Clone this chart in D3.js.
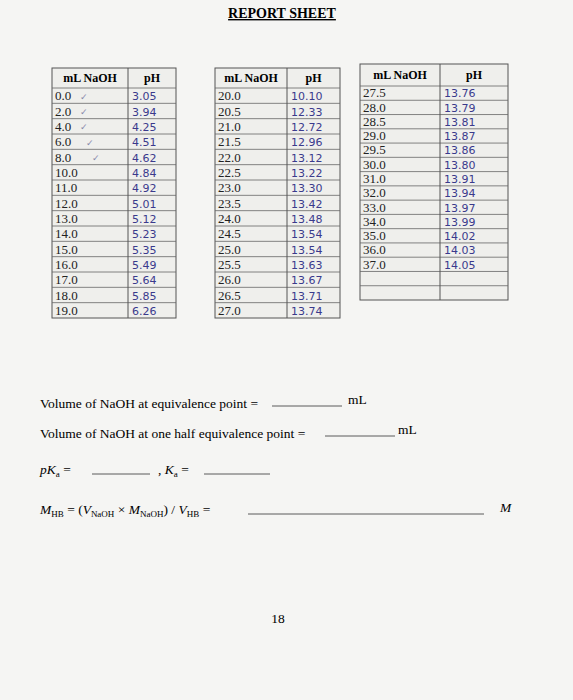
<!DOCTYPE html>
<html><head><meta charset="utf-8">
<script src="https://cdn.jsdelivr.net/npm/d3@7"></script>
<style>body{margin:0;background:#f4f4f2}</style>
</head><body>
<svg id="sheet" width="573" height="700"></svg>
<script>
var vol1 = ["0.0","2.0","4.0","6.0","8.0","10.0","11.0","12.0","13.0","14.0","15.0","16.0","17.0","18.0","19.0"]
var ph1 = ["3.05","3.94","4.25","4.51","4.62","4.84","4.92","5.01","5.12","5.23","5.35","5.49","5.64","5.85","6.26"]
var vol2 = ["20.0","20.5","21.0","21.5","22.0","22.5","23.0","23.5","24.0","24.5","25.0","25.5","26.0","26.5","27.0"]
var ph2 = ["10.10","12.33","12.72","12.96","13.12","13.22","13.30","13.42","13.48","13.54","13.54","13.63","13.67","13.71","13.74"]
var vol3 = ["27.5","28.0","28.5","29.0","29.5","30.0","31.0","32.0","33.0","34.0","35.0","36.0","37.0","",""]
var ph3 = ["13.76","13.79","13.81","13.87","13.86","13.80","13.91","13.94","13.97","13.99","14.02","14.03","14.05","",""]
var checks = [0,1,2,3,4]

var svg = d3.select("#sheet")
svg.append("rect").attr("width",573).attr("height",700).attr("fill","#f5f5f3")
svg.append("text").attr("x",282).attr("y",18).attr("text-anchor","middle")
  .attr("font-family","Liberation Serif").attr("font-weight","bold").attr("font-size",14)
  .attr("text-decoration","underline").text("REPORT SHEET")

function drawTable(x0, x1, x2, y0, yHead, yEnd, vols, phs){
  var g = svg.append("g")
  var rows = d3.range(vols.length)
  var y = d3.scaleBand().domain(rows).range([yHead, yEnd])
  g.append("rect").attr("x",x0).attr("y",y0).attr("width",x2-x0).attr("height",yEnd-y0)
    .attr("fill","#efefec").attr("stroke","#555").attr("stroke-width",1)
  g.selectAll("line.r").data(rows).join("line")
    .attr("x1",x0).attr("x2",x2).attr("y1",function(d){return y(d)}).attr("y2",function(d){return y(d)})
    .attr("stroke","#666").attr("stroke-width",0.8)
  g.append("line").attr("x1",x1).attr("x2",x1).attr("y1",y0).attr("y2",yEnd).attr("stroke","#555")
  var hy = (y0+yHead)/2+4
  g.append("text").attr("x",(x0+x1)/2).attr("y",hy).attr("text-anchor","middle")
    .attr("font-family","Liberation Serif").attr("font-weight","bold").attr("font-size",12).text("mL NaOH")
  g.append("text").attr("x",(x1+x2)/2).attr("y",hy).attr("text-anchor","middle")
    .attr("font-family","Liberation Serif").attr("font-weight","bold").attr("font-size",12).text("pH")
  g.selectAll("text.v").data(rows).join("text")
    .attr("x",x0+3).attr("y",function(d){return y(d)+y.bandwidth()*0.8})
    .attr("font-family","Liberation Serif").attr("font-size",13).attr("fill","#222")
    .text(function(d){return vols[d]})
  g.selectAll("text.p").data(rows).join("text")
    .attr("x",x1+4).attr("y",function(d){return y(d)+y.bandwidth()*0.8})
    .attr("font-family","DejaVu Sans").attr("font-size",11).attr("fill","#3a3a8c")
    .text(function(d){return phs[d]})
  return y
}

var yA = drawTable(52,128,176,68,88,318,vol1,ph1)
drawTable(215,287,340,68,88,318,vol2,ph2)
drawTable(360,440,508,64,86,300,vol3,ph3)

svg.selectAll("text.ck").data(checks).join("text")
  .attr("x",function(d){return d==4?92:d==3?86:80}).attr("y",function(d){return yA(d)+yA.bandwidth()*0.75})
  .attr("font-size",9).attr("fill","#8888aa").text("✓")

var serif = "Liberation Serif"
function line(x, y, txt){ return svg.append("text").attr("x",x).attr("y",y).attr("font-family",serif).attr("font-size",13.5).text(txt) }
function blank(x1, x2, y){ svg.append("line").attr("x1",x1).attr("x2",x2).attr("y1",y).attr("y2",y).attr("stroke","#333").attr("stroke-width",0.8) }

line(40,408,"Volume of NaOH at equivalence point =")
blank(272,342,406); line(348,404,"mL")
line(40,438,"Volume of NaOH at one half equivalence point =")
blank(325,395,436); line(398,434,"mL")
var pk = svg.append("text").attr("x",40).attr("y",474).attr("font-family",serif).attr("font-size",13.5)
pk.append("tspan").attr("font-style","italic").text("pK")
pk.append("tspan").attr("font-size",9).attr("dy",3).text("a")
pk.append("tspan").attr("dy",-3).text(" =")
blank(92,150,474)
var ka = svg.append("text").attr("x",158).attr("y",474).attr("font-family",serif).attr("font-size",13.5)
ka.append("tspan").text(", ")
ka.append("tspan").attr("font-style","italic").text("K")
ka.append("tspan").attr("font-size",9).attr("dy",3).text("a")
ka.append("tspan").attr("dy",-3).text(" =")
blank(204,270,474)
var mh = svg.append("text").attr("x",40).attr("y",514).attr("font-family",serif).attr("font-size",13.5)
mh.append("tspan").attr("font-style","italic").text("M")
mh.append("tspan").attr("font-size",9).attr("dy",3).text("HB")
mh.append("tspan").attr("dy",-3).text(" = (")
mh.append("tspan").attr("font-style","italic").text("V")
mh.append("tspan").attr("font-size",9).attr("dy",3).text("NaOH")
mh.append("tspan").attr("dy",-3).text(" × ")
mh.append("tspan").attr("font-style","italic").text("M")
mh.append("tspan").attr("font-size",9).attr("dy",3).text("NaOH")
mh.append("tspan").attr("dy",-3).text(") / ")
mh.append("tspan").attr("font-style","italic").text("V")
mh.append("tspan").attr("font-size",9).attr("dy",3).text("HB")
mh.append("tspan").attr("dy",-3).text(" =")
blank(248,484,514)
svg.append("text").attr("x",500).attr("y",512).attr("font-family",serif).attr("font-style","italic").attr("font-size",13.5).text("M")
svg.append("text").attr("x",278).attr("y",623).attr("text-anchor","middle").attr("font-family",serif).attr("font-size",13.5).text("18")
</script>
</body></html>
